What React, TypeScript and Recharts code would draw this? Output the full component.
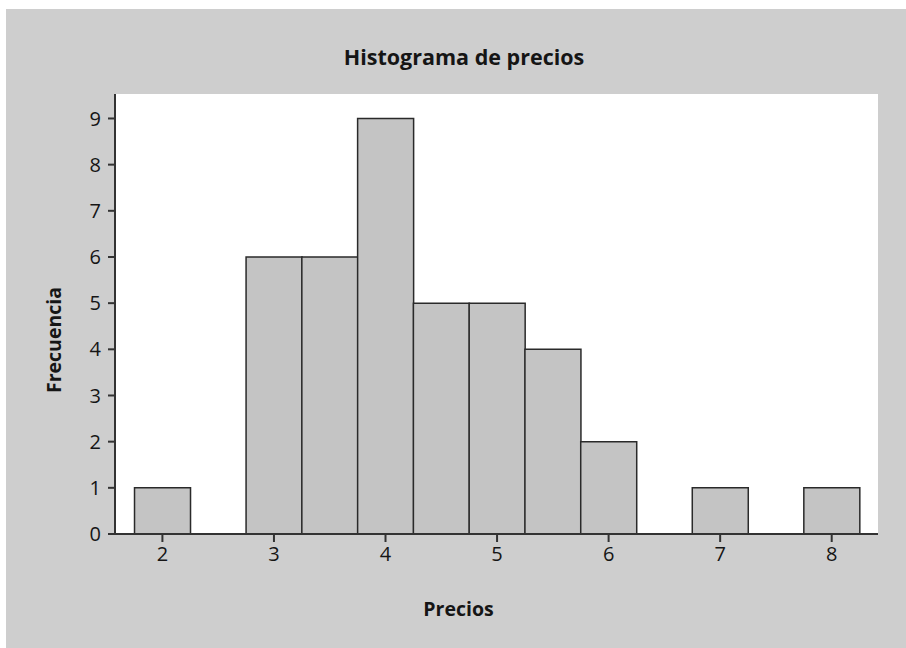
import { Bar, BarChart, CartesianGrid, XAxis, YAxis } from "recharts";

// bin centres (width 0.5) and how many prices fell in each
const binCenters = [2, 3, 3.5, 4, 4.5, 5, 5.5, 6, 7, 8];
const frequencies = [1, 6, 6, 9, 5, 5, 4, 2, 1, 1];
const xTicks = [2, 3, 4, 5, 6, 7, 8];
const yTicks = [0, 1, 2, 3, 4, 5, 6, 7, 8, 9];

const title = "Histograma de precios";
const xTitle = "Precios";
const yTitle = "Frecuencia";

const FONT = "'Open Sans', 'Noto Sans', sans-serif";
const INK = "#151515";
const LINE = "#333333";

const data = binCenters.map((x, i) => ({ x, freq: frequencies[i] }));

export default function App() {
  return (
    <div
      style={{
        position: "absolute",
        left: 6,
        top: 9,
        width: 900,
        height: 639,
        background: "#cecece",
        fontFamily: FONT,
      }}
    >
      <div
        style={{
          position: "absolute",
          top: 33,
          left: 0,
          width: 916,
          textAlign: "center",
          fontSize: 21.5,
          fontWeight: 700,
          color: INK,
        }}
      >
        {title}
      </div>
      <BarChart
        width={900}
        height={639}
        data={data}
        barCategoryGap={0}
        barGap={0}
        margin={{ top: 85, right: 28, bottom: 0, left: 0 }}
      >
        <CartesianGrid horizontal={false} vertical={false} fill="#ffffff" />
        <XAxis
          dataKey="x"
          type="number"
          domain={[1.575, 8.415]}
          ticks={xTicks}
          allowDataOverflow
          height={114}
          axisLine={{ stroke: LINE, strokeWidth: 2 }}
          tickLine={{ stroke: LINE, strokeWidth: 2 }}
          tickSize={8}
          tickMargin={5}
          tick={{ fill: INK, fontSize: 20, fontFamily: FONT }}
          label={({ viewBox }: any) => (
            <text
              x={viewBox.x + viewBox.width / 2 - 38}
              y={viewBox.y + 82}
              textAnchor="middle"
              fontSize={19.5}
              fontWeight={700}
              fontFamily={FONT}
              fill={INK}
            >
              {xTitle}
            </text>
          )}
        />
        <XAxis
          xAxisId="top"
          orientation="top"
          type="number"
          dataKey="x"
          domain={[1.575, 8.415]}
          allowDataOverflow
          height={0}
          tick={false}
          tickLine={false}
          axisLine={{ stroke: LINE, strokeWidth: 2 }}
        />
        <YAxis
          type="number"
          domain={[0, 9.53]}
          ticks={yTicks}
          allowDataOverflow
          width={109}
          axisLine={{ stroke: LINE, strokeWidth: 2 }}
          tickLine={{ stroke: LINE, strokeWidth: 2 }}
          tickSize={7}
          tickMargin={7}
          tick={{ fill: INK, fontSize: 20, fontFamily: FONT }}
          label={({ viewBox }: any) => {
            const cx = viewBox.x + 47;
            const cy = viewBox.y + viewBox.height / 2 + 26;
            return (
              <text
                x={cx}
                y={cy}
                transform={`rotate(-90 ${cx} ${cy})`}
                textAnchor="middle"
                dominantBaseline="central"
                fontSize={19.5}
                fontWeight={700}
                fontFamily={FONT}
                fill={INK}
              >
                {yTitle}
              </text>
            );
          }}
        />
        <YAxis
          yAxisId="right"
          orientation="right"
          domain={[0, 9.53]}
          width={0}
          tick={false}
          tickLine={false}
          axisLine={{ stroke: LINE, strokeWidth: 2 }}
        />
        <Bar
          dataKey="freq"
          fill="#c4c4c4"
          stroke="#2a2a2a"
          strokeWidth={1.5}
          isAnimationActive={false}
        />
      </BarChart>
    </div>
  );
}
